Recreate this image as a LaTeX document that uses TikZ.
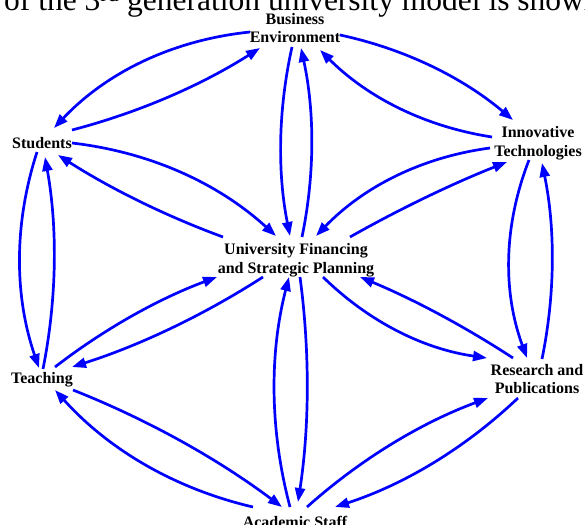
\documentclass[tikz,border=0pt]{standalone}
\usepackage{fontspec}
\setmainfont{Liberation Serif}
\usetikzlibrary{arrows.meta}
\begin{document}
\begin{tikzpicture}[x=1pt,y=-1pt,
  lbl/.style={font=\bfseries\fontsize{16}{18.8}\selectfont, align=center, inner sep=0pt},
  edge/.style={draw=blue, line width=2.7pt, -{Triangle[length=14pt,width=10pt]}}]
\useasboundingbox (0,0) rectangle (585,524);
\clip (0,0) rectangle (585,524);
\fill[white] (0,0) rectangle (585,524);
\node[anchor=base west, font=\fontsize{31.5}{36}\selectfont, inner sep=0pt] (cap) at (4,10.5) {of the 3\textsuperscript{rd} generation university model is shown};
% nodes
\node[lbl] (bus) at (295,28) {Business\\Environment};
\node[lbl] (stu) at (42,143) {Students};
\node[lbl] (inn) at (538,143) {Innovative\\Technologies};
\node[lbl] (cen) at (296,260) {University Financing\\and Strategic Planning};
\node[lbl] (tea) at (42,380) {Teaching};
\node[lbl] (res) at (537,379) {Research and\\Publications};
\node[lbl] (aca) at (295,522) {Academic Staff};
% outer ring
\draw[edge] ([shift={(-45,4)}]bus.center) .. controls +(-77,8) and +(53,-56) .. ([shift={(12,-15)}]stu.center);
\draw[edge] ([shift={(30,-13)}]stu.center) .. controls +(67,-17.5) and +(-58.4,37.1) .. ([shift={(-35,20)}]bus.center);
\draw[edge] ([shift={(45,7)}]bus.center) .. controls +(64.7,13.9) and +(-50.7,-42.7) .. ([shift={(-25,-23)}]inn.center);
\draw[edge] ([shift={(-46,-6)}]inn.center) .. controls +(-66.8,-10.3) and +(47.8,47.7) .. ([shift={(25,22)}]bus.center);
\draw[edge] ([shift={(-5,9)}]stu.center) .. controls +(-23.3,72) and +(-24.7,-72) .. ([shift={(-3,-12)}]tea.center);
\draw[edge] ([shift={(1,-11)}]tea.center) .. controls +(14,-70.7) and +(12.6,70.7) .. ([shift={(3,14)}]stu.center);
\draw[edge] ([shift={(-9,17)}]inn.center) .. controls +(-25.7,66) and +(-24.3,-66) .. ([shift={(-10,-21)}]res.center);
\draw[edge] ([shift={(5,-20)}]res.center) .. controls +(13.3,-65.3) and +(13.3,65.3) .. ([shift={(4,20)}]inn.center);
\draw[edge] ([shift={(31,10)}]tea.center) .. controls +(74.9,29.7) and +(-64.5,-48.3) .. ([shift={(-13,-15)}]aca.center);
\draw[edge] ([shift={(-42,-15)}]aca.center) .. controls +(-78.2,-18.3) and +(53.8,59.7) .. ([shift={(13,10)}]tea.center);
\draw[edge] ([shift={(12,-15)}]aca.center) .. controls +(53.4,-47.7) and +(-67.2,24.9) .. ([shift={(-49,19)}]res.center);
\draw[edge] ([shift={(-19,19)}]res.center) .. controls +(-52.8,50.1) and +(69.2,-22.5) .. ([shift={(40,-15)}]aca.center);
% spokes
\draw[edge] ([shift={(-3,19)}]bus.center) .. controls +(-14,63) and +(-12.6,-63) .. ([shift={(-6,-24)}]cen.center);
\draw[edge] ([shift={(6,-23)}]cen.center) .. controls +(13,-63) and +(13.6,63) .. ([shift={(6,20)}]bus.center);
\draw[edge] ([shift={(30,0)}]stu.center) .. controls +(78,9.1) and +(-58,-52.9) .. ([shift={(-20,-24)}]cen.center);
\draw[edge] ([shift={(-73,-23)}]cen.center) .. controls +(-58,-21.3) and +(52,33.3) .. ([shift={(16,12)}]stu.center);
\draw[edge] ([shift={(-48,5)}]inn.center) .. controls +(-68.2,9.1) and +(47.8,-49.5) .. ([shift={(20,-24)}]cen.center);
\draw[edge] ([shift={(54,-23)}]cen.center) .. controls +(50.6,-28.6) and +(-54,21.4) .. ([shift={(-31,19)}]inn.center);
\draw[edge] ([shift={(13,-13)}]tea.center) .. controls +(49.5,-38.2) and +(-58.5,21.8) .. ([shift={(-79,17)}]cen.center);
\draw[edge] ([shift={(-33,17)}]cen.center) .. controls +(-59.7,38.4) and +(67.7,-21.6) .. ([shift={(30,-13)}]tea.center);
\draw[edge] ([shift={(-5,-15)}]aca.center) .. controls +(-20.3,-76.7) and +(-19.7,76.7) .. ([shift={(-7,17)}]cen.center);
\draw[edge] ([shift={(4,17)}]cen.center) .. controls +(10,75) and +(11.4,-75) .. ([shift={(3,-20)}]aca.center);
\draw[edge] ([shift={(27,17)}]cen.center) .. controls +(45.9,44.9) and +(-63.5,-9.1) .. ([shift={(-50,-21)}]res.center);
\draw[edge] ([shift={(-24,-21)}]res.center) .. controls +(-48.5,-31.7) and +(53.5,22.3) .. ([shift={(64,17)}]cen.center);
\end{tikzpicture}
\end{document}
